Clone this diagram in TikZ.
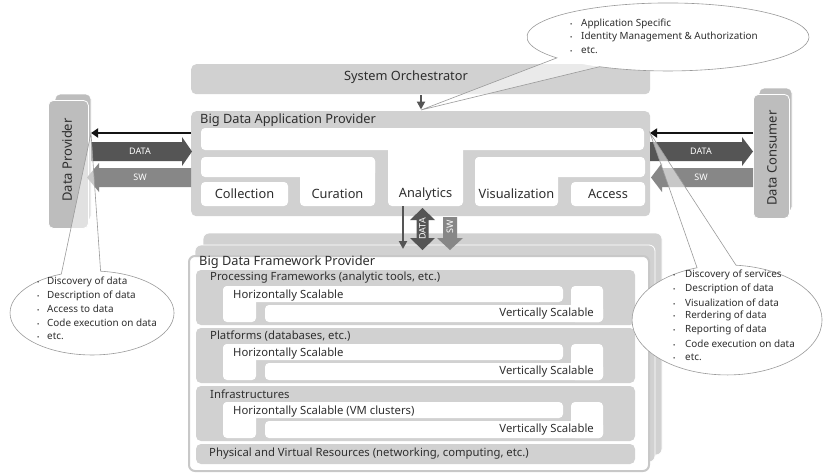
\documentclass[tikz,border=0pt]{standalone}
\usepackage{fontspec}
\setmainfont{Noto Sans}
\usetikzlibrary{arrows.meta,calc}
\definecolor{boxgray}{HTML}{D1D1D1}
\definecolor{sidegray}{HTML}{BDBDBD}
\definecolor{txt}{HTML}{2E2E2E}
\definecolor{datac}{HTML}{555555}
\definecolor{swc}{HTML}{878787}
\definecolor{callc}{HTML}{9A9A9A}
\definecolor{framec}{HTML}{C8C8C8}
\newcommand\bul{{\fontsize{6}{6}\selectfont\textbullet}}
\begin{document}
\begin{tikzpicture}[x=1pt,y=-1pt,
  lbl/.style={text=txt, inner sep=0pt, font=\fontsize{12.8}{14}\selectfont},
  ttl/.style={lbl, anchor=west, font=\fontsize{12.8}{14}\selectfont},
  layer/.style={lbl, anchor=west, font=\fontsize{11.3}{13}\selectfont},
  arrlbl/.style={text=white, inner sep=0pt, font=\fontsize{9}{10}\selectfont},
  bub/.style={text=txt, inner sep=0pt, anchor=west, font=\fontsize{9.9}{11}\selectfont},
  gbox/.style={fill=boxgray, rounded corners=5pt, inner sep=0pt, anchor=north west},
  sbox/.style={fill=sidegray, draw=white, line width=0.8pt, rounded corners=5pt, inner sep=0pt, anchor=north west},
  wfill/.style={fill=white, rounded corners=4pt},
  blk/.style={draw=black!92, line width=2.6pt, -{Triangle[length=7pt,width=9pt]}},
  dkarr/.style={draw=datac, line width=2.2pt, -{Triangle[length=8pt,width=8pt]}},
  bubline/.style={draw=callc, line width=0.6pt},
  bubfill/.style={fill=white, fill opacity=0.55},
]
\useasboundingbox (0,0) rectangle (823,472);
\fill[white] (0,0) rectangle (823,472);

% ---------- System Orchestrator ----------
\node[gbox, minimum width=459pt, minimum height=30pt] (orch) at (191,64) {};
\node[lbl] (orcht) at (406,77) {System Orchestrator};

% ---------- Application Provider ----------
\node[gbox, minimum width=459pt, minimum height=105pt] (app) at (191,111) {};
\node[ttl] (appt) at (200,120) {Big Data Application Provider};
\fill[wfill] (201,128) rectangle (644,150);
\fill[wfill] (388,128) rectangle (463,206);
\fill[wfill] (201,157) rectangle (375,177);
\fill[wfill] (300,157) rectangle (375,206);
\fill[wfill] (201,182) rectangle (288,206);
\fill[wfill] (475,157) rectangle (645,177);
\fill[wfill] (475,157) rectangle (558,206);
\fill[wfill] (571,182) rectangle (645,206);
\node[lbl] (coll) at (244.5,194) {Collection};
\node[lbl] (cura) at (337.5,194) {Curation};
\node[lbl] (anal) at (425.5,194) {Analytics};
\node[lbl] (visu) at (516.5,194) {Visualization};
\node[lbl] (acce) at (608,194) {Access};

% orchestrator -> application provider
\coordinate (o1) at (421,95);
\coordinate (o2) at (421,109.5);
\draw[dkarr] (o1) -- (o2);

% ---------- Data Provider ----------
\fill[sidegray, rounded corners=5pt, draw=white, line width=0.8pt] (55,94) rectangle (91,221);
\node[sbox, minimum width=40pt, minimum height=128pt] (dp) at (48,100) {};
\node[lbl, rotate=90, font=\fontsize{13}{15}\selectfont] (dpt) at (67,160) {Data Provider};

% ---------- Data Consumer ----------
\fill[sidegray, rounded corners=5pt, draw=white, line width=0.8pt] (759,88) rectangle (792,212);
\node[sbox, minimum width=36pt, minimum height=124pt] (dc) at (753,94) {};
\node[lbl, rotate=90, font=\fontsize{13}{15}\selectfont] (dct) at (772,158) {Data Consumer};

% ---------- left arrows ----------
\draw[blk] (app.west |- 0,133) -- (91,133);
\fill[datac] (91,142) -- (182,142) -- (182,137) -- (192,151.5) -- (182,166) -- (182,161) -- (91,161) -- cycle;
\node[arrlbl] (ldata) at (140,151.5) {DATA};
\fill[swc] (191,168) -- (99,168) -- (99,163) -- (87,177.5) -- (99,192) -- (99,187) -- (191,187) -- cycle;
\node[arrlbl] (lsw) at (140,177.5) {SW};

% ---------- right arrows ----------
\draw[blk] (dc.west |- 0,133) -- (650,133);
\fill[datac] (650,142) -- (742,142) -- (742,137) -- (753,151.5) -- (742,166) -- (742,161) -- (650,161) -- cycle;
\node[arrlbl] (rdata) at (701,151.5) {DATA};
\fill[swc] (753,168) -- (662,168) -- (662,163) -- (651,177.5) -- (662,192) -- (662,187) -- (753,187) -- cycle;
\node[arrlbl] (rsw) at (701,177.5) {SW};

% ---------- Framework Provider (stack) ----------
\fill[boxgray, rounded corners=6pt, draw=white, line width=0.8pt] (203,233) rectangle (662,455);
\fill[boxgray, rounded corners=6pt, draw=white, line width=0.8pt] (195,245) rectangle (655,462);
\node[fill=white, draw=framec, line width=2pt, rounded corners=6pt, inner sep=0pt, anchor=north west,
      minimum width=460pt, minimum height=215pt] (fw) at (188,255) {};
\node[ttl] (fwt) at (199,262) {Big Data Framework Provider};

% layers
\foreach \T/\nm in {270/pf, 328/pl, 386/in}{
  \fill[boxgray, rounded corners=5pt] (196,\T) rectangle (635,\T+55);
  \fill[wfill] (223,\T+16) rectangle (563,\T+32);
  \fill[wfill] (223,\T+16) rectangle (256,\T+52);
  \fill[wfill] (571,\T+16) rectangle (603,\T+52);
  \fill[wfill] (265,\T+35) rectangle (603,\T+52);
  \node[layer, anchor=east] (\nm v) at (594,\T+44) {Vertically Scalable};
}
\node[layer] (pft) at (210,278) {Processing Frameworks (analytic tools, etc.)};
\node[layer] (pfh) at (233,296) {Horizontally Scalable};
\node[layer] (plt) at (210,336) {Platforms (databases, etc.)};
\node[layer] (plh) at (233,354) {Horizontally Scalable};
\node[layer] (int) at (210,394) {Infrastructures};
\node[layer] (inh) at (233,412) {Horizontally Scalable (VM clusters)};
\fill[boxgray, rounded corners=5pt] (196,444) rectangle (635,464);
\node[layer] (phy) at (209,454) {Physical and Virtual Resources (networking, computing, etc.)};

% ---------- arrows app <-> framework ----------
\coordinate (m1) at (403,206);
\coordinate (m2) at (403,249);
\draw[dkarr] (m1) -- (m2);
\fill[datac] (422.5,208) -- (435,220) -- (428.5,220) -- (428.5,238) -- (435,238) -- (422.5,250)
  -- (410,238) -- (416.5,238) -- (416.5,220) -- (410,220) -- cycle;
\node[arrlbl, rotate=90] (mdata) at (422.5,229) {DATA};
\fill[swc] (443,217) -- (457,217) -- (457,238) -- (463,238) -- (450,250) -- (437,238) -- (443,238) -- cycle;
\node[arrlbl, rotate=90] (msw) at (450,227) {SW};

% ---------- callout: top ----------
\coordinate (ctip) at (421,110);
\path[bubfill] (599.6,66.7) arc[start angle=119, end angle=-218, x radius=141, y radius=34] -- (ctip) -- cycle;
\fill[white] (668,37) ellipse [x radius=141, y radius=34];
\path[bubline] (599.6,66.7) arc[start angle=119, end angle=-218, x radius=141, y radius=34] -- (ctip) -- cycle;
\node[bub] (c1a) at (570,24) {\makebox[11pt][l]{\bul}Application Specific};
\node[bub] (c1b) at (570,37) {\makebox[11pt][l]{\bul}Identity Management \& Authorization};
\node[bub] (c1c) at (570,50) {\makebox[11pt][l]{\bul}etc.};

% ---------- callout: left ----------
\coordinate (ltip) at (91,133);
\path[bubfill] (100.6,271.2) arc[start angle=-84, end angle=248, x radius=82, y radius=42] -- (ltip) -- cycle;
\fill[white] (92,313) ellipse [x radius=82, y radius=42];
\path[bubline] (100.6,271.2) arc[start angle=-84, end angle=248, x radius=82, y radius=42] -- (ltip) -- cycle;
\node[bub] (c2a) at (37,282) {\makebox[10pt][l]{\bul}Discovery of data};
\node[bub] (c2b) at (37,295.5) {\makebox[10pt][l]{\bul}Description of data};
\node[bub] (c2c) at (37,309) {\makebox[10pt][l]{\bul}Access to data};
\node[bub] (c2d) at (37,322.5) {\makebox[10pt][l]{\bul}Code execution on data};
\node[bub] (c2e) at (37,336) {\makebox[10pt][l]{\bul}etc.};

% ---------- callout: right ----------
\coordinate (rtip) at (650,133);
\path[bubfill] (736,265.2) arc[start angle=-84.6, end angle=251.6, x radius=95, y radius=55] -- (rtip) -- cycle;
\fill[white] (727,320) ellipse [x radius=95, y radius=55];
\path[bubline] (736,265.2) arc[start angle=-84.6, end angle=251.6, x radius=95, y radius=55] -- (rtip) -- cycle;
\node[bub] (c3a) at (673,275) {\makebox[12pt][l]{\bul}Discovery of services};
\node[bub] (c3b) at (673,288.7) {\makebox[12pt][l]{\bul}Description of data};
\node[bub] (c3c) at (673,302.4) {\makebox[12pt][l]{\bul}Visualization of data};
\node[bub] (c3d) at (673,316.1) {\makebox[12pt][l]{\bul}Rerdering of data};
\node[bub] (c3e) at (673,329.8) {\makebox[12pt][l]{\bul}Reporting of data};
\node[bub] (c3f) at (673,343.5) {\makebox[12pt][l]{\bul}Code execution on data};
\node[bub] (c3g) at (673,357.2) {\makebox[12pt][l]{\bul}etc.};
\end{tikzpicture}
\end{document}
